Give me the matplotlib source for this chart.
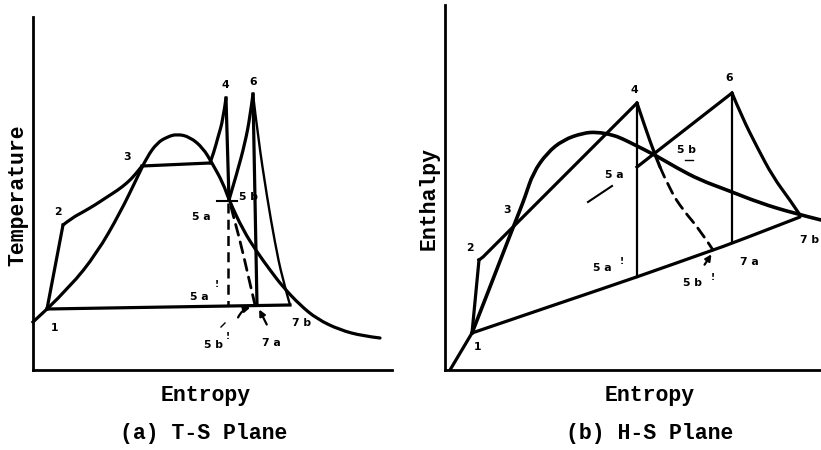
import matplotlib
matplotlib.use("Agg")
import matplotlib.pyplot as plt
from matplotlib.path import Path
from matplotlib.patches import PathPatch

W, H = 821, 450

# ---------------- Panel (a): T-S plane (schematic units) ----------------
a_s_feed = [33, 47]
a_T_feed = [322, 309]
a_s_12 = [47, 63]
a_T_12 = [309, 225]
a_s_23 = [63, 72, 83, 95, 107, 118, 127, 135, 142]
a_T_23 = [225, 218, 212, 205, 197, 190, 183, 175, 166]
a_s_boil = [142, 210]
a_T_boil = [166, 163]
a_s_sh4 = [210, 214, 218, 223, 226]
a_T_sh4 = [163, 152, 137, 120, 98]
a_s_45a = [226, 229]
a_T_45a = [98, 200]
a_s_5a_dash = [228, 228]
a_T_5a_dash = [203, 305]
a_s_5a6 = [229, 237, 245, 250, 253]
a_T_5a6 = [200, 173, 143, 117, 94]
a_s_67a = [253, 257]
a_T_67a = [94, 305]
a_s_67b = [253, 258, 267, 275, 282, 290]
a_T_67b = [94, 137, 197, 243, 277, 305]
a_s_cond = [47, 290]
a_T_cond = [309, 305]
a_s_dome = [47, 70, 97, 120, 137, 147, 157, 167, 177, 190, 203, 212, 223, 229,
            243, 257, 270, 283, 300, 317, 340, 363, 380]
a_T_dome = [309, 287, 253, 213, 178, 157, 143, 137, 134, 137, 148, 163, 183, 200,
            230, 252, 270, 287, 305, 319, 330, 336, 338]
a_s_5b_dash = [231, 240, 248, 255]
a_T_5b_dash = [207, 240, 275, 305]
a_s_mark = [217, 237]
a_T_mark = [201, 201]

a_labels = [("1", 55, 328), ("2", 58, 212), ("3", 127, 157), ("4", 225, 85),
            ("6", 253, 82), ("5 a", 201, 217), ("5 b", 248, 197),
            ("5 a", 199, 297), ("5 b", 213, 345), ("7 a", 271, 343),
            ("7 b", 302, 323)]
a_primes = [("!", 217, 285), ("!", 228, 337)]

# ---------------- Panel (b): H-S plane (schematic units) ----------------
b_s_feed = [450, 472]
b_h_feed = [370, 333]
b_s_12 = [472, 479]
b_h_12 = [333, 260]
b_s_24 = [479, 483, 637]
b_h_24 = [260, 257, 103]
b_s_dome = [472, 490, 507, 520, 525, 533, 547, 563, 583, 597, 613, 623, 633,
            655, 677, 700, 727, 760, 793, 821]
b_h_dome = [333, 287, 243, 210, 197, 173, 153, 140, 133, 132, 135, 139, 144,
            155, 168, 180, 190, 203, 213, 220]
b_s_cond = [472, 560, 637, 713, 733, 800]
b_h_cond = [333, 303, 277, 250, 243, 217]
b_s_45a = [637, 637]
b_h_45a = [103, 277]
b_s_4curve = [637, 645, 655, 660]
b_h_4curve = [103, 127, 155, 167]
b_s_4dash = [660, 670, 683, 700, 713]
b_h_4dash = [167, 190, 210, 230, 250]
b_s_5a6 = [637, 732]
b_h_5a6 = [167, 93]
b_s_67a = [732, 732]
b_h_67a = [93, 243]
b_s_67b = [732, 742, 757, 773, 790, 800]
b_h_67b = [93, 117, 147, 177, 200, 215]
b_s_tick = [588, 612]
b_h_tick = [202, 186]

b_labels = [("1", 478, 347), ("2", 470, 248), ("3", 507, 210), ("4", 634, 90),
            ("6", 729, 78), ("5 a", 614, 175), ("5 b", 686, 150),
            ("5 a", 602, 268), ("5 b", 692, 283), ("7 a", 749, 262),
            ("7 b", 810, 240)]
b_primes = [("!", 622, 262), ("!", 713, 277)]

fig = plt.figure(figsize=(W / 100, H / 100), dpi=100)
fig.patch.set_facecolor("white")


def make_axes(x0, x1, y0, y1):
    ax = fig.add_axes([x0 / W, 1 - y1 / H, (x1 - x0) / W, (y1 - y0) / H])
    ax.set_xlim(x0, x1)
    ax.set_ylim(y1, y0)
    for sp in ("top", "right"):
        ax.spines[sp].set_visible(False)
    for sp in ("left", "bottom"):
        ax.spines[sp].set_linewidth(2.0)
        ax.spines[sp].set_color("black")
    ax.set_xticks([])
    ax.set_yticks([])
    ax.patch.set_alpha(0)
    return ax


def curve(ax, xs, ys, **kw):
    """Smooth curve through the listed points using quadratic Bezier segments."""
    pts = list(zip(xs, ys))
    if len(pts) < 3:
        ax.plot(xs, ys, solid_capstyle="round", **kw)
        return
    verts = [pts[0]]
    codes = [Path.MOVETO]
    for i in range(1, len(pts) - 1):
        if i == len(pts) - 2:
            end = pts[-1]
        else:
            end = ((pts[i][0] + pts[i + 1][0]) / 2, (pts[i][1] + pts[i + 1][1]) / 2)
        verts += [pts[i], end]
        codes += [Path.CURVE3, Path.CURVE3]
    lw = kw.pop("lw", 2)
    ls = kw.pop("ls", "-")
    color = kw.pop("color", "black")
    ax.add_patch(PathPatch(Path(verts, codes), fill=False, lw=lw, ls=ls,
                           edgecolor=color, capstyle="round", joinstyle="round",
                           **kw))


THICK = 2.3
THIN = 1.3
K = "black"
DASH = (0, (4, 2.5))
mono = "Liberation Mono"
lab_font = dict(family="DejaVu Sans", fontweight="bold", fontsize=7.8,
                ha="center", va="center", color=K)
big_font = dict(family=mono, fontweight="bold", fontsize=15.5,
                ha="center", va="center", color=K)

# ---- panel a ----
ax = make_axes(33, 392, 17, 370)
ax.plot(a_s_feed, a_T_feed, color=K, lw=THICK, clip_on=False)
ax.plot(a_s_12, a_T_12, color=K, lw=THICK)
curve(ax, a_s_23, a_T_23, color=K, lw=THICK)
ax.plot(a_s_boil, a_T_boil, color=K, lw=THICK)
curve(ax, a_s_sh4, a_T_sh4, color=K, lw=THICK)
ax.plot(a_s_45a, a_T_45a, color=K, lw=THICK)
ax.plot(a_s_5a_dash, a_T_5a_dash, color=K, lw=1.8, ls=DASH)
curve(ax, a_s_5a6, a_T_5a6, color=K, lw=THICK)
ax.plot(a_s_67a, a_T_67a, color=K, lw=THICK)
curve(ax, a_s_67b, a_T_67b, color=K, lw=THIN + 0.4)
ax.plot(a_s_cond, a_T_cond, color=K, lw=THICK)
curve(ax, a_s_dome, a_T_dome, color=K, lw=THICK)
curve(ax, a_s_5b_dash, a_T_5b_dash, color=K, lw=2.0, ls=DASH)
ax.plot(a_s_mark, a_T_mark, color=K, lw=1.5)
ax.plot([221, 225], [327, 323], color=K, lw=1.0)
ax.annotate("", xy=(253, 307), xytext=(237, 320),
            arrowprops=dict(arrowstyle="-|>", color=K, lw=1.6, mutation_scale=9,
                            connectionstyle="arc3,rad=-0.3"))
ax.annotate("", xy=(258, 307), xytext=(268, 327),
            arrowprops=dict(arrowstyle="-|>", color=K, lw=1.6, mutation_scale=9))
for t, x, y in a_labels:
    ax.text(x, y, t, **lab_font)
for t, x, y in a_primes:
    ax.text(x, y, t, **dict(lab_font, fontsize=6.5))
ax.text(18, 195, "Temperature", rotation=90, **big_font)
ax.text(206, 395, "Entropy", **big_font)
ax.text(204, 433, "(a) T-S Plane", **big_font)

# ---- panel b ----
bx = make_axes(445, 821, 5, 370)
bx.plot(b_s_feed, b_h_feed, color=K, lw=THICK)
bx.plot(b_s_12, b_h_12, color=K, lw=THICK)
bx.plot(b_s_24, b_h_24, color=K, lw=THICK)
curve(bx, b_s_dome, b_h_dome, color=K, lw=THICK + 0.3)
curve(bx, b_s_cond, b_h_cond, color=K, lw=THICK)
bx.plot(b_s_45a, b_h_45a, color=K, lw=THIN + 0.3)
curve(bx, b_s_4curve, b_h_4curve, color=K, lw=THICK)
curve(bx, b_s_4dash, b_h_4dash, color=K, lw=2.0, ls=DASH)
bx.plot(b_s_5a6, b_h_5a6, color=K, lw=THICK)
bx.plot(b_s_67a, b_h_67a, color=K, lw=THIN + 0.3)
curve(bx, b_s_67b, b_h_67b, color=K, lw=THICK)
bx.plot(b_s_tick, b_h_tick, color=K, lw=1.5)
bx.plot([685, 693], [160, 160], color=K, lw=1.0)
bx.annotate("", xy=(713, 252), xytext=(703, 267),
            arrowprops=dict(arrowstyle="-|>", color=K, lw=1.6, mutation_scale=9))
for t, x, y in b_labels:
    bx.text(x, y, t, **lab_font)
for t, x, y in b_primes:
    bx.text(x, y, t, **dict(lab_font, fontsize=6.5))
bx.text(429, 198, "Enthalpy", rotation=90, **big_font)
bx.text(650, 395, "Entropy", **big_font)
bx.text(650, 433, "(b) H-S Plane", **big_font)

fig.savefig("out.png", dpi=100)
